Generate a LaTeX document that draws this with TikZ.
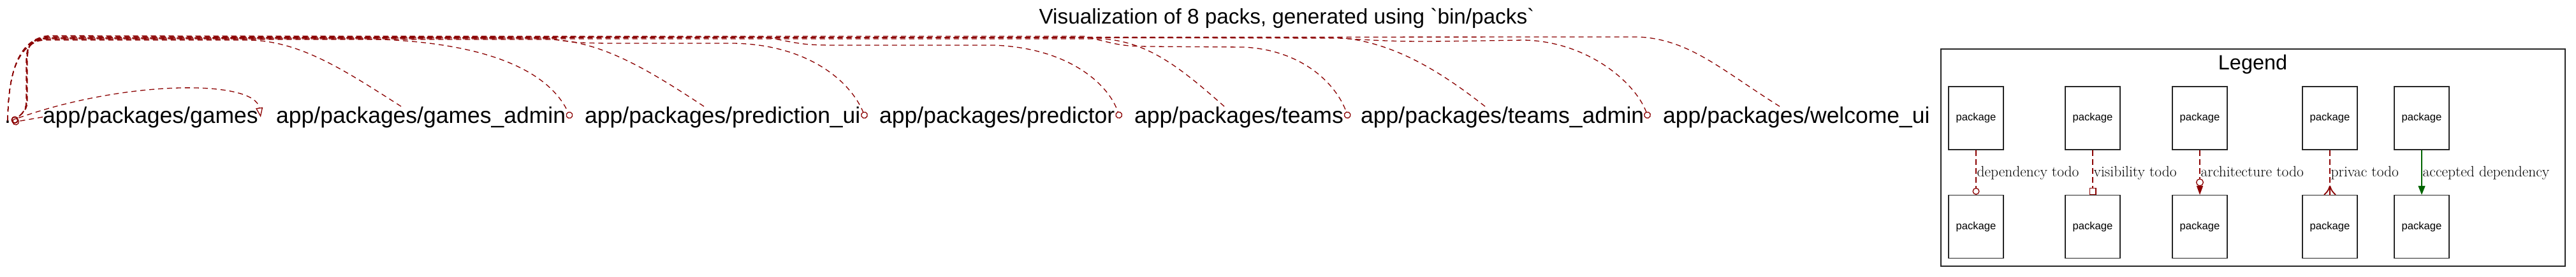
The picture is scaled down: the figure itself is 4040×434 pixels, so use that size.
\documentclass[tikz,border=0pt]{standalone}
\usepackage{fontspec}
\newfontfamily\arialf{Liberation Sans}[Ligatures=TeXOff]
\usetikzlibrary{arrows.meta,calc}
\definecolor{dred}{HTML}{8B0000}
\definecolor{dgreen}{HTML}{006400}
\begin{document}
\begin{tikzpicture}[x=1pt,y=-1pt,
  pkg/.style={font=\arialf\fontsize{35.5}{40}\selectfont, inner sep=0pt, anchor=base west},
  edge/.style={draw=dred, line width=1.3pt, dash pattern=on 8pt off 6pt},
  odot/.style={-{Circle[open,length=11pt,width=11pt]}},
  lbox/.style={draw=black!85, line width=1.2pt, minimum width=86pt, minimum height=99pt, inner sep=0pt, font=\arialf\fontsize{16.6}{20}\selectfont},
  ledge/.style={draw=dred, line width=1.3pt, dash pattern=on 9pt off 5pt},
  lab/.style={font=\fontsize{23.5}{26}\selectfont, text=black, inner sep=0pt, anchor=base west, pos=0.59, xshift=1pt}
]
\useasboundingbox (0,0) rectangle (4040,434);
\fill[white] (0,0) rectangle (4040,434);

% title
\node[font=\arialf\fontsize{33.3}{40}\selectfont, anchor=base, inner sep=0pt] (title) at (2018,37) {Visualization of 8 packs, generated using `bin/packs`};

% package nodes
\node[pkg] (dot) at (7,193) {.};
\node[pkg] (games) at (67,193) {app/packages/games};
\node[pkg] (gadmin) at (433,193) {app/packages/games\_admin};
\node[pkg] (predui) at (917,193) {app/packages/prediction\_ui};
\node[pkg] (pred) at (1379,193) {app/packages/predictor};
\node[pkg] (teams) at (1779,193) {app/packages/teams};
\node[pkg] (tadmin) at (2134,193) {app/packages/teams\_admin};
\node[pkg] (welcome) at (2608,193) {app/packages/welcome\_ui};

% dot -> games (open triangle)
\draw[edge, -{Triangle[open,length=15pt,width=11pt]}] ($(dot.east)+(12,-6)$) .. controls (200,125) and (400,125) .. ($(games.north east)+(4,17)$);

% dot -> packages (odot heads)
\draw[edge, odot] (dot.north) .. controls (13,110) and (30,66) .. (75,61) -- (560,61) .. controls (780,63) and (865,120) .. ($(gadmin.east)+(8,2)$);
\draw[edge, odot] (dot.north) .. controls (13,110) and (30,65) .. (75,59) -- (860,60) .. controls (900,67) .. (950,68) -- (1150,68) .. controls (1270,70) and (1335,130) .. ($(predui.east)+(8,2)$);
\draw[edge, odot] (dot.north) .. controls (13,110) and (30,64) .. (75,58) -- (1200,58) .. controls (1260,70) .. (1300,71) -- (1560,71) .. controls (1680,76) and (1740,135) .. ($(pred.east)+(8,2)$);
\draw[edge, odot] (dot.north) .. controls (13,110) and (30,63) .. (75,57) -- (1700,57) .. controls (1760,72) .. (1800,73) -- (1950,74) .. controls (2040,78) and (2095,130) .. ($(teams.east)+(8,2)$);
\draw[edge, odot] (dot.north) .. controls (13,110) and (30,62) .. (75,56) -- (2100,60) .. controls (2200,66) .. (2390,63) .. controls (2490,65) and (2565,130) .. ($(tadmin.east)+(7,2)$);

% packages -> dot (odot heads at dot)
\draw[edge, odot] ($(gadmin.north west)+(196,0)$) .. controls (540,110) and (470,64) .. (390,63) -- (75,63) .. controls (45,63) and (42,75) .. (42,100) -- (42,160) .. controls (42,175) and (30,182) .. ($(dot.east)+(2,1)$);
\draw[edge, odot] ($(predui.north west)+(187,0)$) .. controls (1010,105) and (940,64) .. (860,62) -- (75,62) .. controls (44,62) and (41,75) .. (41,100) -- (41,160) .. controls (41,175) and (30,182) .. ($(dot.east)+(2,1)$);
\draw[edge, odot] ($(teams.north west)+(141,0)$) .. controls (1850,105) and (1800,66) .. (1730,61) -- (75,61) .. controls (45,61) and (43,75) .. (43,100) -- (43,160) .. controls (43,175) and (30,182) .. ($(dot.east)+(2,1)$);
\draw[edge, odot] ($(tadmin.north west)+(195,0)$) .. controls (2250,105) and (2180,66) .. (2100,59) -- (75,60) .. controls (44,60) and (42,75) .. (42,100) -- (42,160) .. controls (42,175) and (30,182) .. ($(dot.east)+(2,1)$);
\draw[edge, odot] ($(welcome.north west)+(183,0)$) .. controls (2700,110) and (2650,62) .. (2570,58) -- (75,59) .. controls (45,59) and (42,75) .. (42,100) -- (42,160) .. controls (42,175) and (30,182) .. ($(dot.east)+(2,1)$);
\draw[edge, odot] (games.west) -- ($(dot.east)+(2,1)$);

% legend
\node[draw=black!85, line width=1.3pt, minimum width=979pt, minimum height=341pt, inner sep=0pt] (legend) at (3533.5,247.5) {};
\node[font=\arialf\fontsize{32.4}{38}\selectfont, anchor=base, inner sep=0pt] (legtitle) at (3533,109) {Legend};

\node[lbox] (p1) at (3099,185.5) {package};
\node[lbox] (q1) at (3099,356) {package};
\node[lbox] (p2) at (3282,185.5) {package};
\node[lbox] (q2) at (3282,356) {package};
\node[lbox] (p3) at (3450,185.5) {package};
\node[lbox] (q3) at (3450,356) {package};
\node[lbox] (p4) at (3654,185.5) {package};
\node[lbox] (q4) at (3654,356) {package};
\node[lbox] (p5) at (3798,185.5) {package};
\node[lbox] (q5) at (3798,356) {package};

\draw[ledge, -{Circle[open,length=11pt,width=11pt]}] (p1) -- node[lab]{dependency todo} (q1);
\draw[ledge, -{Square[open,length=11pt,width=11pt]}] (p2) -- node[lab]{visibility todo} (q2);
\draw[ledge, -{Triangle[length=14pt,width=10pt]}] (p3) -- node[lab]{architecture todo} (q3);
\draw[dred, line width=1.3pt, fill=white] ($(q3.north)+(0,-19.5)$) circle[radius=5.4pt];
\draw[ledge] (p4) -- node[lab]{privac todo} (q4);
\draw[dred, line width=1.8pt] ($(q4.north)+(0,-14)$) .. controls ($(q4.north)+(-3,-6)$) .. ($(q4.north)+(-9,0)$);
\draw[dred, line width=1.8pt] ($(q4.north)+(0,-14)$) .. controls ($(q4.north)+(3,-6)$) .. ($(q4.north)+(9,0)$);
\draw[dred, line width=1.8pt] ($(q4.north)+(0,-14)$) -- (q4.north);
\draw[dgreen, line width=1.3pt, -{Triangle[length=14pt,width=11pt]}] (p5) -- node[lab]{accepted dependency} (q5);
\end{tikzpicture}
\end{document}
